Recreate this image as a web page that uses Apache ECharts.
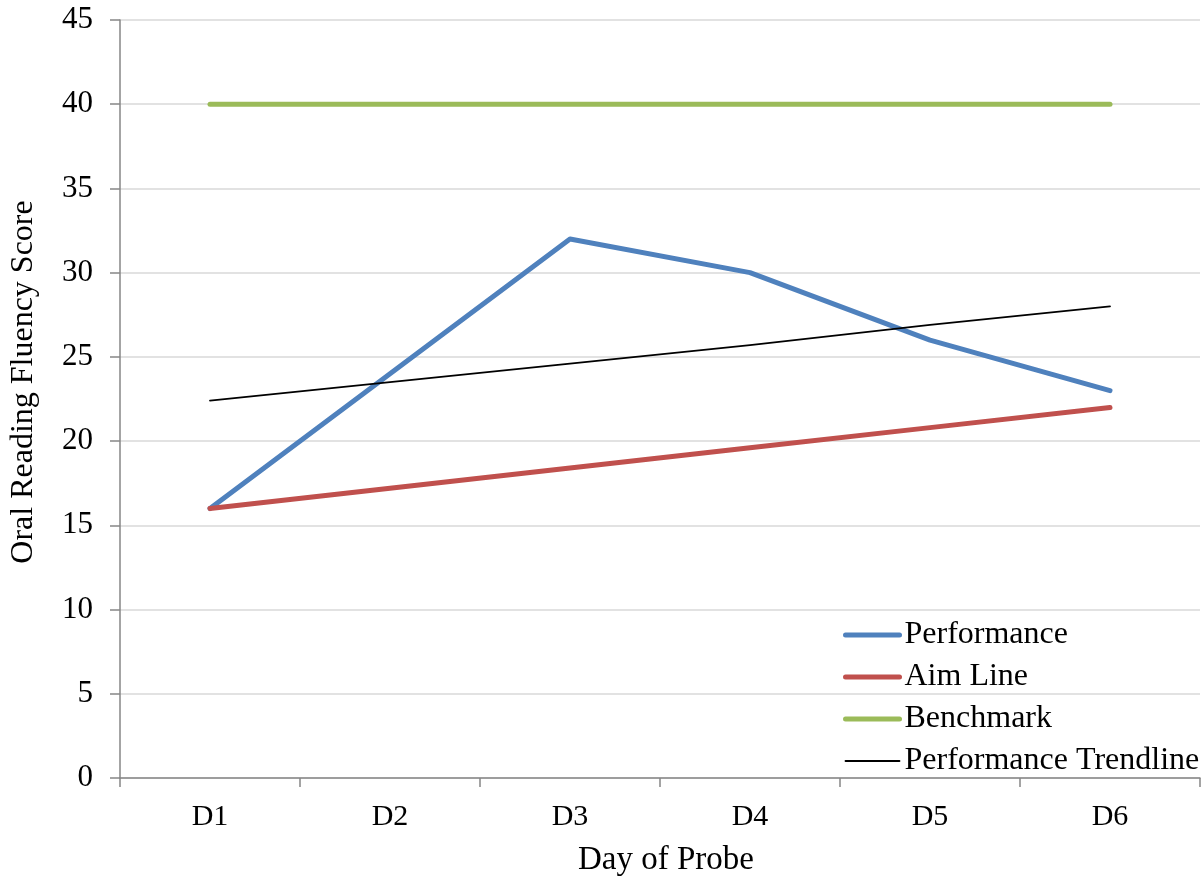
<!DOCTYPE html>
<html>
<head>
<meta charset="utf-8">
<script src="https://cdn.jsdelivr.net/npm/echarts@6/dist/echarts.min.js"></script>
<style>
  html, body { margin: 0; padding: 0; background: #fff; }
  #chart { width: 1203px; height: 881px; }
</style>
</head>
<body>
<div id="chart"></div>
<script>
// Probe days and oral reading fluency scores
const days = ['D1', 'D2', 'D3', 'D4', 'D5', 'D6'];
const performance = [16, 24, 32, 30, 26, 23];
const aimLine = [16, 17.2, 18.4, 19.6, 20.8, 22];
const benchmark = [40, 40, 40, 40, 40, 40];
const trendline = [22.4, 23.5, 24.6, 25.7, 26.9, 28.0];

const FONT = "'Liberation Serif', 'Times New Roman', serif";
const AXIS_GRAY = '#868686';
const COLORS = {
  performance: '#4f81bd',
  aim: '#c0504d',
  benchmark: '#9bbb59',
  trend: '#000000'
};

const chart = echarts.init(document.getElementById('chart'), null, { renderer: 'canvas' });

function lineSeries(name, data, color, width) {
  return {
    name: name,
    type: 'line',
    data: data,
    symbol: 'none',
    silent: true,
    animation: false,
    lineStyle: { color: color, width: width, cap: 'round', join: 'round' },
    itemStyle: { color: color }
  };
}

function legendItem(name, color, width) {
  return {
    name: name,
    lineStyle: { color: color, width: width, cap: 'round' },
    itemStyle: { opacity: 0 }
  };
}

chart.setOption({
  backgroundColor: '#ffffff',
  animation: false,
  textStyle: { fontFamily: FONT, color: '#000' },
  grid: { left: 120, right: 3, top: 20, bottom: 103, containLabel: false, outerBoundsMode: 'none' },
  legend: {
    orient: 'vertical',
    left: 843,
    top: 619,
    padding: 0,
    itemWidth: 54,
    itemHeight: 14,
    itemGap: 10,
    selectedMode: false,
    textStyle: { fontFamily: FONT, fontSize: 32, color: '#000' },
    data: [
      legendItem('Performance', COLORS.performance, 5),
      legendItem('Aim Line', COLORS.aim, 5),
      legendItem('Benchmark', COLORS.benchmark, 5),
      legendItem('Performance Trendline', COLORS.trend, 1.8)
    ]
  },
  xAxis: {
    type: 'category',
    data: days,
    boundaryGap: true,
    name: 'Day of Probe',
    nameLocation: 'middle',
    nameGap: 66,
    nameTextStyle: { fontFamily: FONT, fontSize: 33, color: '#000', verticalAlign: 'top', padding: [0, 0, 0, 12] },
    axisLine: { lineStyle: { color: AXIS_GRAY, width: 1.5 } },
    axisTick: { show: true, length: 9, alignWithLabel: false, lineStyle: { color: AXIS_GRAY, width: 1.5 } },
    axisLabel: { fontFamily: FONT, fontSize: 30, color: '#000', margin: 24 },
    splitLine: { show: false }
  },
  yAxis: {
    type: 'value',
    min: 0,
    max: 45,
    interval: 5,
    name: 'Oral Reading Fluency Score',
    nameLocation: 'middle',
    nameGap: 80,
    nameRotate: 90,
    nameTextStyle: { fontFamily: FONT, fontSize: 32, color: '#000', padding: [0, 0, 0, 34] },
    axisLine: { show: true, lineStyle: { color: AXIS_GRAY, width: 1.5 } },
    axisTick: { show: true, length: 10, lineStyle: { color: AXIS_GRAY, width: 1.5 } },
    axisLabel: { fontFamily: FONT, fontSize: 31, color: '#000', margin: 27 },
    splitLine: { show: true, lineStyle: { color: '#d9d9d9', width: 1.5 } }
  },
  series: [
    lineSeries('Performance', performance, COLORS.performance, 5),
    lineSeries('Aim Line', aimLine, COLORS.aim, 5),
    lineSeries('Benchmark', benchmark, COLORS.benchmark, 5),
    lineSeries('Performance Trendline', trendline, COLORS.trend, 1.8)
  ]
});
</script>
</body>
</html>
